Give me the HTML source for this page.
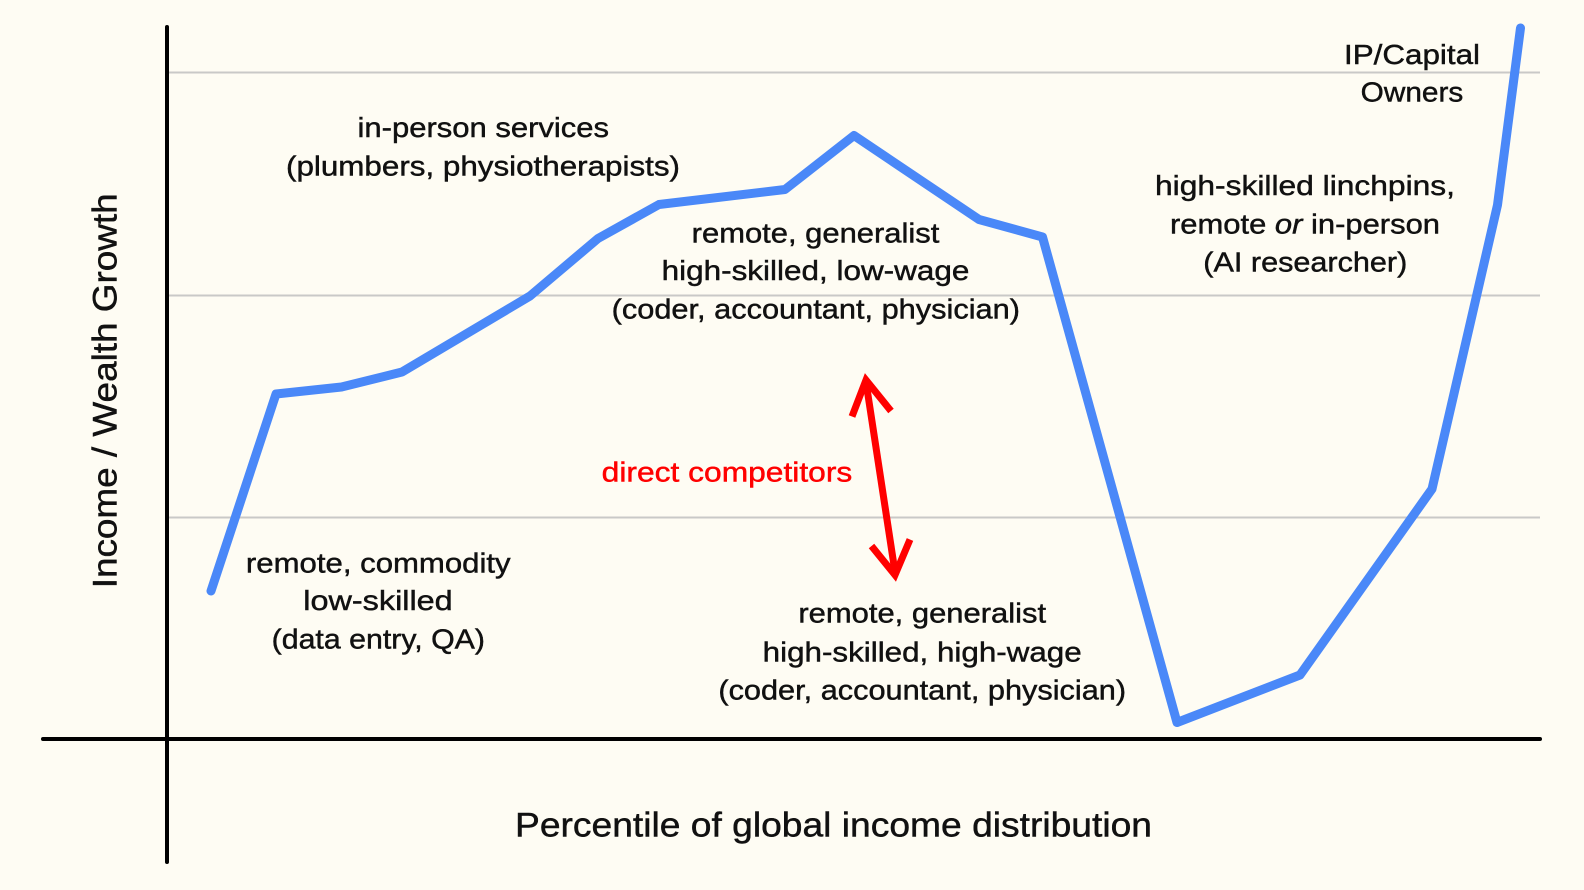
<!DOCTYPE html>
<html>
<head>
<meta charset="utf-8">
<style>
  html, body { margin: 0; padding: 0; background: #fefcf3; }
  body { width: 1584px; height: 890px; overflow: hidden; }
  svg { display: block; }
  text { font-family: "Liberation Sans", "DejaVu Sans", sans-serif; fill: #111; stroke: #111; stroke-width: 0.45px; }
</style>
</head>
<body>
<svg width="1584" height="890" viewBox="0 0 1584 890" xmlns="http://www.w3.org/2000/svg">
  <rect x="0" y="0" width="1584" height="890" fill="#fefcf3"/>

  <!-- gridlines -->
  <g stroke="#c9c9c7" stroke-width="2">
    <line x1="167" y1="72.5" x2="1540" y2="72.5"/>
    <line x1="167" y1="295.5" x2="1540" y2="295.5"/>
    <line x1="167" y1="517.5" x2="1540" y2="517.5"/>
  </g>

  <!-- axes -->
  <g stroke="#000" stroke-width="4" stroke-linecap="round">
    <line x1="167" y1="27" x2="167" y2="862"/>
    <line x1="43" y1="739" x2="1540" y2="739"/>
  </g>

  <!-- blue series -->
  <polyline fill="none" stroke="#4a88f8" stroke-width="9" stroke-linecap="round" stroke-linejoin="round"
    points="211,591 276,394 341.5,387 402,372 530,296 598,238.5 659,204.5 785,189.5 854,135.5 979,219.5 1042.5,237 1177,722.5 1300,675 1432,489 1497.5,205 1520.5,28"/>

  <!-- red double arrow -->
  <g stroke="#ff0000" stroke-width="7" fill="none">
    <line x1="866" y1="382" x2="895" y2="572" stroke-linecap="butt"/>
    <polyline points="852,416.5 866,380 891,411" stroke-linejoin="miter" stroke-miterlimit="10"/>
    <polyline points="871.5,546 895,575 910,539.5" stroke-linejoin="miter" stroke-miterlimit="10"/>
  </g>

  <!-- annotations -->
  <g font-size="28" text-anchor="middle">
    <text x="483.3" y="137" textLength="251.5" lengthAdjust="spacingAndGlyphs">in-person services</text>
    <text x="483" y="175.5" textLength="394" lengthAdjust="spacingAndGlyphs">(plumbers, physiotherapists)</text>

    <text x="815.5" y="242.3" textLength="247.6" lengthAdjust="spacingAndGlyphs">remote, generalist</text>
    <text x="815.5" y="280" textLength="307.7" lengthAdjust="spacingAndGlyphs">high-skilled, low-wage</text>
    <text x="815.8" y="318.3" textLength="408.3" lengthAdjust="spacingAndGlyphs">(coder, accountant, physician)</text>

    <text x="727" y="481.7" textLength="250.6" lengthAdjust="spacingAndGlyphs" style="fill:#ff0000;stroke:#ff0000">direct competitors</text>

    <text x="378.3" y="572.7" textLength="264.7" lengthAdjust="spacingAndGlyphs">remote, commodity</text>
    <text x="378" y="610" textLength="149.4" lengthAdjust="spacingAndGlyphs">low-skilled</text>
    <text x="378.3" y="648.3" textLength="213.3" lengthAdjust="spacingAndGlyphs">(data entry, QA)</text>

    <text x="922.2" y="622.7" textLength="247.7" lengthAdjust="spacingAndGlyphs">remote, generalist</text>
    <text x="922.2" y="661.7" textLength="319" lengthAdjust="spacingAndGlyphs">high-skilled, high-wage</text>
    <text x="922.2" y="699.3" textLength="407.7" lengthAdjust="spacingAndGlyphs">(coder, accountant, physician)</text>

    <text x="1412" y="64" textLength="136" lengthAdjust="spacingAndGlyphs">IP/Capital</text>
    <text x="1412" y="101.7" textLength="102.6" lengthAdjust="spacingAndGlyphs">Owners</text>

    <text x="1305" y="195" textLength="300" lengthAdjust="spacingAndGlyphs">high-skilled linchpins,</text>
    <text x="1305" y="233.3" textLength="270" lengthAdjust="spacingAndGlyphs">remote <tspan font-style="italic">or</tspan> in-person</text>
    <text x="1305.3" y="271.7" textLength="204" lengthAdjust="spacingAndGlyphs">(AI researcher)</text>
  </g>

  <!-- axis titles -->
  <text x="833.5" y="836.7" font-size="34" text-anchor="middle" textLength="637" lengthAdjust="spacingAndGlyphs">Percentile of global income distribution</text>
  <text transform="translate(116.7,390.8) rotate(-90)" x="0" y="0" font-size="34" text-anchor="middle" textLength="395" lengthAdjust="spacingAndGlyphs">Income / Wealth Growth</text>
</svg>
</body>
</html>
